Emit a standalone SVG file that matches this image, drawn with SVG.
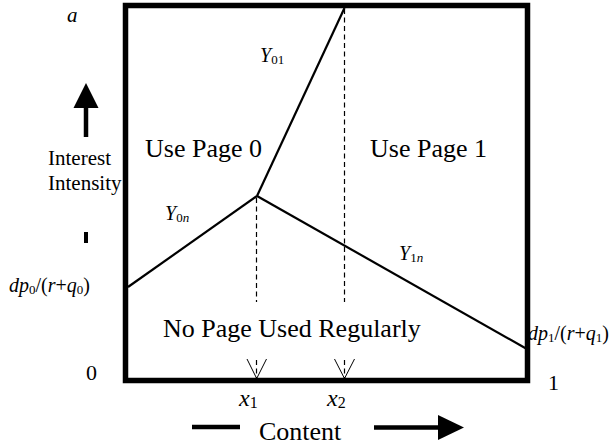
<svg xmlns="http://www.w3.org/2000/svg" width="616" height="448" viewBox="0 0 616 448">
<style>
text{font-family:"Liberation Serif","Times New Roman",serif;fill:#000}
.i{font-style:italic}
.big{font-size:26px}
.lab{font-size:20px}
.dash{stroke:#000;stroke-width:1.2;stroke-dasharray:5,3.5;fill:none}
.ln{stroke:#000;stroke-width:2.2;fill:none}
.v{stroke:#000;stroke-width:1;fill:none}
</style>
<rect width="616" height="448" fill="#fff"/>
<g id="frame">
<rect x="125.5" y="5.5" width="402" height="375" fill="none" stroke="#000" stroke-width="5.5"/>
</g>
<g id="connectors">
<line class="ln" x1="128" y1="287" x2="257" y2="196"/>
<line class="ln" x1="257" y1="196" x2="344.5" y2="8"/>
<line class="ln" x1="257" y1="196" x2="526" y2="348.5"/>
<line class="dash" x1="256.5" y1="198" x2="256.5" y2="302"/>
<line class="dash" x1="344.5" y1="9" x2="344.5" y2="302"/>
<line class="dash" x1="256.5" y1="360" x2="256.5" y2="378"/>
<line class="dash" x1="344.5" y1="360" x2="344.5" y2="378"/>
<polyline class="v" points="247,359 256.7,378.5 266.5,359"/>
<polyline class="v" points="334.5,359 344.5,378.5 354.5,359"/>
</g>
<g id="y-axis">
<text class="i" x="67" y="22" style="font-size:21px">a</text>
<line x1="86" y1="106" x2="86" y2="137" stroke="#000" stroke-width="4.5"/>
<polygon points="73.5,108 98.5,108 86,83"/>
<line x1="86" y1="232" x2="86" y2="243" stroke="#000" stroke-width="4"/>
<text x="48" y="165" style="font-size:21px">Interest</text>
<text x="48" y="190" style="font-size:21px">Intensity</text>
<text x="86" y="380" style="font-size:22px">0</text>
<text x="548" y="390" style="font-size:22px">1</text>
</g>
<g id="region-page0"><text class="big" x="145" y="157">Use Page 0</text></g>
<g id="region-page1"><text class="big" x="370" y="157">Use Page 1</text></g>
<g id="region-none"><text class="big" x="163" y="337">No Page Used Regularly</text></g>
<g id="label-y01"><text x="260" y="62" class="lab"><tspan class="i">Y</tspan><tspan style="font-size:13px" dy="2">01</tspan></text></g>
<g id="label-y0n"><text x="165" y="220" class="lab"><tspan class="i">Y</tspan><tspan style="font-size:13px" dy="2">0</tspan><tspan class="i" style="font-size:13px">n</tspan></text></g>
<g id="label-y1n"><text x="399" y="260" class="lab"><tspan class="i">Y</tspan><tspan style="font-size:13px" dy="2">1</tspan><tspan class="i" style="font-size:13px">n</tspan></text></g>
<g id="label-dp0"><text x="9" y="292" class="lab"><tspan class="i">dp</tspan><tspan style="font-size:13px" dy="2">0</tspan><tspan dy="-2">/(</tspan><tspan class="i">r</tspan><tspan>+</tspan><tspan class="i">q</tspan><tspan style="font-size:13px" dy="2">0</tspan><tspan dy="-2">)</tspan></text></g>
<g id="label-dp1"><text x="528" y="340" class="lab"><tspan class="i">dp</tspan><tspan style="font-size:13px" dy="2">1</tspan><tspan dy="-2">/(</tspan><tspan class="i">r</tspan><tspan>+</tspan><tspan class="i">q</tspan><tspan style="font-size:13px" dy="2">1</tspan><tspan dy="-2">)</tspan></text></g>
<g id="label-x1"><text x="239" y="406" style="font-size:24px"><tspan class="i">x</tspan><tspan style="font-size:16px" dy="2">1</tspan></text></g>
<g id="label-x2"><text x="327" y="406" style="font-size:24px"><tspan class="i">x</tspan><tspan style="font-size:16px" dy="2">2</tspan></text></g>
<g id="x-axis">
<text x="259" y="440" style="font-size:26px">Content</text>
<line x1="192" y1="427" x2="240" y2="427" stroke="#000" stroke-width="4.5"/>
<line x1="374" y1="427.5" x2="440" y2="427.5" stroke="#000" stroke-width="4.5"/>
<polygon points="438,415 438,440 464,427.5"/>
</g>
</svg>
